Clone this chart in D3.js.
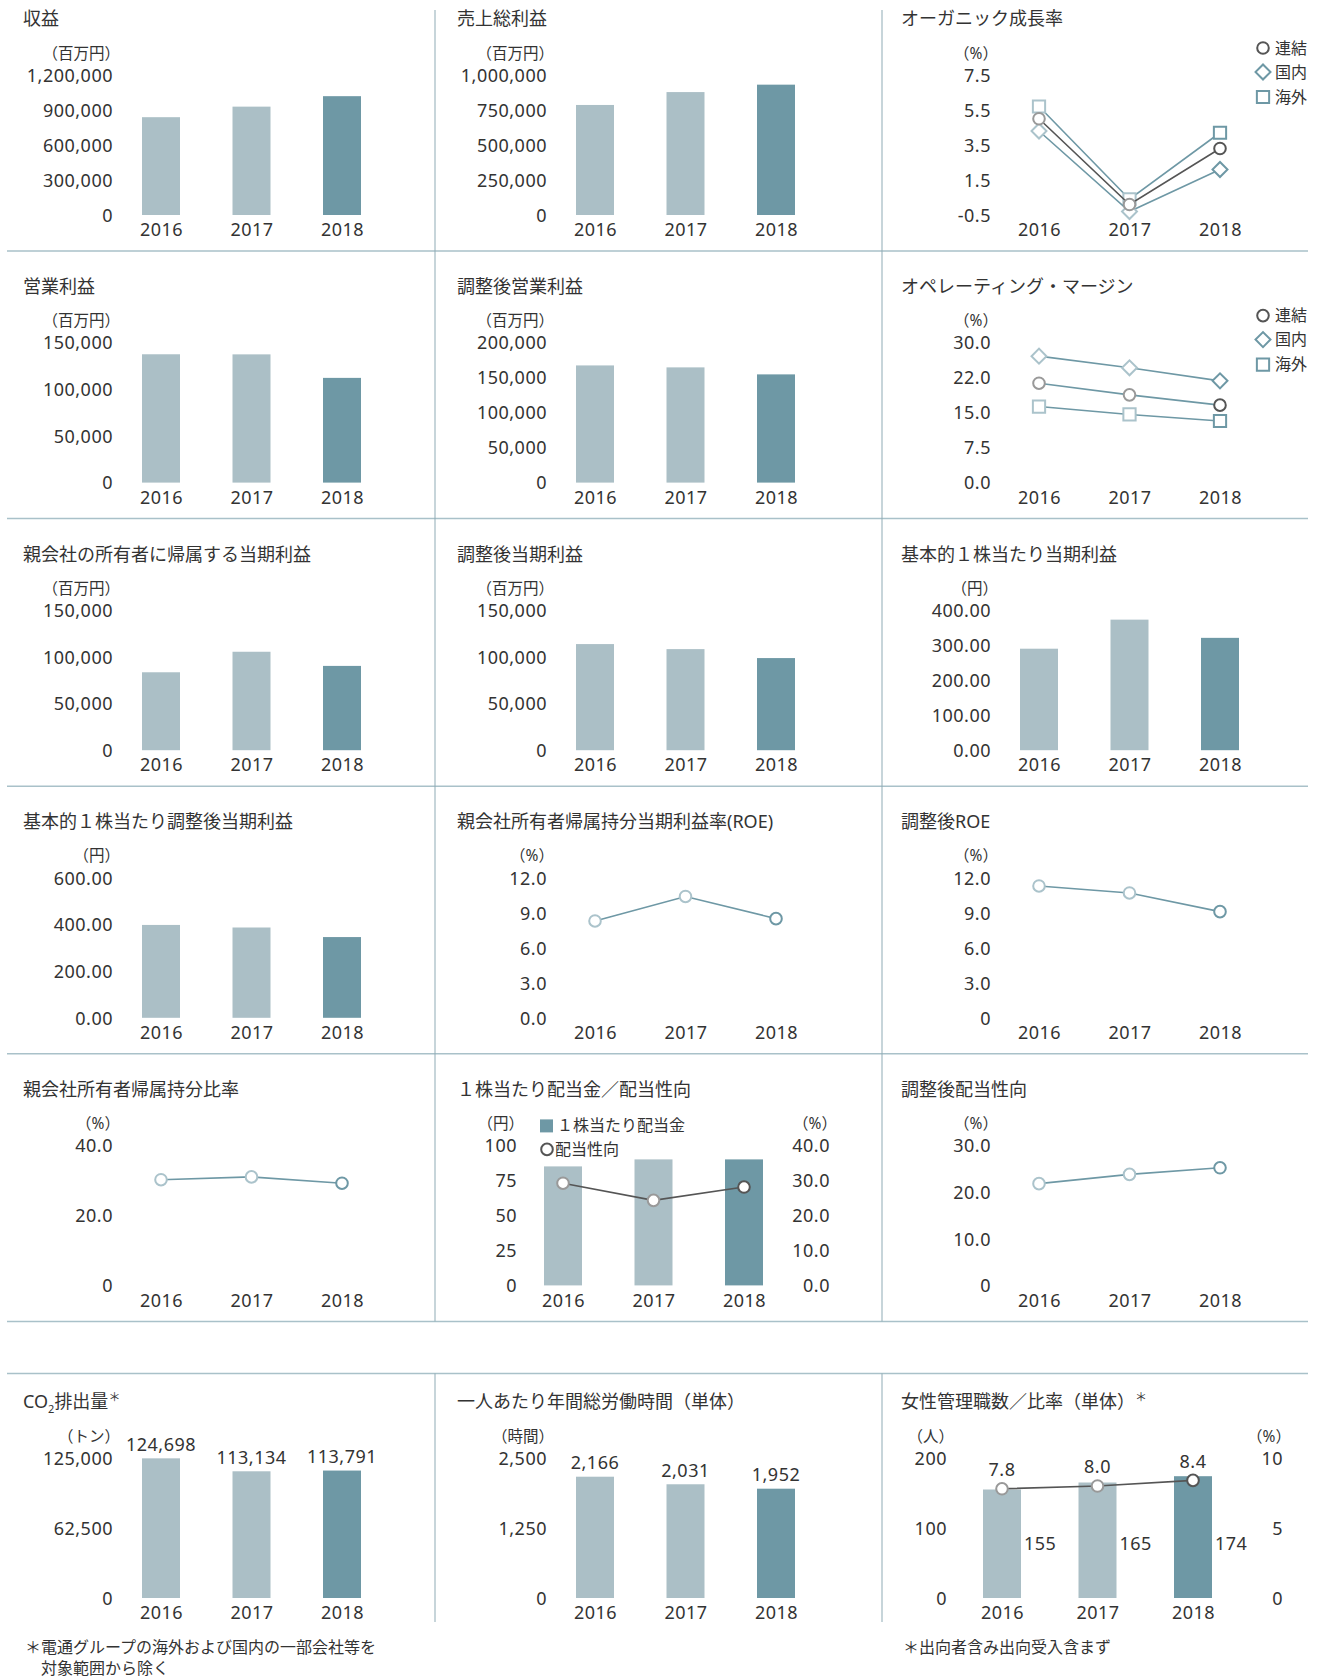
<!DOCTYPE html>
<html>
<head>
<meta charset="utf-8">
<script src="https://cdn.jsdelivr.net/npm/d3@7"></script>
<style>
body { margin: 0; background: #fff; }
svg text { font-family: "Noto Sans", "Noto Sans CJK JP", sans-serif; fill: #333; }
.title { font-size: 18px; }
.unit { font-size: 15.5px; }
.num { font-size: 18px; letter-spacing: 0.5px; }
.legend { font-size: 16px; }
.note { font-size: 16px; }
</style>
</head>
<body>
<svg id="chart" width="1320" height="1678"></svg>
<script>
// ---- data ----
var years = ["2016", "2017", "2018"];

var revenue = [838359, 928841, 1018512];
var grossProfit = [786000, 878000, 931000];
var organicTotal = [5.0, 0.1, 3.3];
var organicJapan = [4.3, -0.3, 2.1];
var organicIntl = [5.7, 0.4, 4.2];

var operatingProfit = [137500, 137400, 112200];
var underlyingOpProfit = [167400, 164600, 154600];
var marginTotal = [21.3, 18.8, 16.6];
var marginJapan = [27.1, 24.6, 21.8];
var marginIntl = [16.3, 14.6, 13.2];

var netIncome = [83501, 105478, 90316];
var underlyingNetIncome = [113700, 108300, 98700];
var eps = [290.0, 373.0, 321.0];

var underlyingEps = [398.0, 387.0, 346.0];
var roe = [8.3, 10.4, 8.5];
var underlyingRoe = [11.3, 10.7, 9.1];

var equityRatio = [30.2, 31.0, 29.2];
var dividend = [85, 90, 90];
var payoutRatio = [29.2, 24.3, 28.1];
var underlyingPayout = [21.8, 23.8, 25.2];

var co2 = [124698, 113134, 113791];
var workHours = [2166, 2031, 1952];
var womenManagers = [155, 165, 174];
var womenRatio = [7.8, 8.0, 8.4];

// tick labels
var revenueTicks = [0, 300000, 600000, 900000, 1200000];
var revenueLabels = ["0", "300,000", "600,000", "900,000", "1,200,000"];
var grossTicks = [0, 250000, 500000, 750000, 1000000];
var grossLabels = ["0", "250,000", "500,000", "750,000", "1,000,000"];
var organicTicks = [-0.5, 1.5, 3.5, 5.5, 7.5];
var organicLabels = ["-0.5", "1.5", "3.5", "5.5", "7.5"];
var ticks150k = [0, 50000, 100000, 150000];
var labels150k = ["0", "50,000", "100,000", "150,000"];
var ticks200k = [0, 50000, 100000, 150000, 200000];
var labels200k = ["0", "50,000", "100,000", "150,000", "200,000"];
var marginTicks = [0, 7.5, 15, 22.5, 30];
var marginLabels = ["0.0", "7.5", "15.0", "22.0", "30.0"];
var epsTicks = [0, 100, 200, 300, 400];
var epsLabels = ["0.00", "100.00", "200.00", "300.00", "400.00"];
var uEpsTicks = [0, 200, 400, 600];
var uEpsLabels = ["0.00", "200.00", "400.00", "600.00"];
var roeTicks = [0, 3, 6, 9, 12];
var roeLabels = ["0.0", "3.0", "6.0", "9.0", "12.0"];
var uRoeLabels = ["0", "3.0", "6.0", "9.0", "12.0"];
var equityTicks = [0, 20, 40];
var equityLabels = ["0", "20.0", "40.0"];
var divTicks = [0, 25, 50, 75, 100];
var divLabels = ["0", "25", "50", "75", "100"];
var payoutTicks = [0, 10, 20, 30, 40];
var payoutLabels = ["0.0", "10.0", "20.0", "30.0", "40.0"];
var uPayoutTicks = [0, 10, 20, 30];
var uPayoutLabels = ["0", "10.0", "20.0", "30.0"];
var co2Ticks = [0, 62500, 125000];
var co2Labels = ["0", "62,500", "125,000"];
var hoursTicks = [0, 1250, 2500];
var hoursLabels = ["0", "1,250", "2,500"];
var womenTicks = [0, 100, 200];
var womenLabels = ["0", "100", "200"];
var ratioTicks = [0, 5, 10];
var ratioLabels = ["0", "5", "10"];

// ---- colours ----
var lightBar = "#abbfc6";
var darkBar = "#6e98a5";
var teal = "#6e98a5";
var lightMark = "#abc3cb";
var gray = "#555";
var grayMark = "#999";
var tealMarks = [lightMark, lightMark, teal];
var grayMarks = [grayMark, grayMark, gray];

var colX = [0, 434, 878];
var rowTop = [0, 267.6, 535.2, 802.8, 1070.4];
var bottomTop = 1383;

var svg = d3.select("#chart");

// separator lines
var hLines = [251, 518.6, 786.2, 1053.8, 1321.4, 1373.5];
svg.selectAll("line.h").data(hLines).enter().append("line")
	.attr("x1", 7).attr("x2", 1308)
	.attr("y1", function(d) { return d; }).attr("y2", function(d) { return d; })
	.attr("stroke", "#a9c1c9").attr("stroke-width", 1.5);
[435, 882].forEach(function(xv) {
	svg.append("line").attr("x1", xv).attr("x2", xv).attr("y1", 10).attr("y2", 1321.4)
		.attr("stroke", "#8fabb5").attr("stroke-width", 1);
	svg.append("line").attr("x1", xv).attr("x2", xv).attr("y1", 1373.5).attr("y2", 1622)
		.attr("stroke", "#8fabb5").attr("stroke-width", 1);
});

// ---- helpers ----
function panel(col, top) {
	return svg.append("g").attr("transform", "translate(" + colX[col] + "," + top + ")");
}

function title(g, txt) {
	return g.append("text").attr("class", "title").attr("x", 23).attr("y", 19).attr("dy", "0.36em").text(txt);
}

function unit(g, txt, xr) {
	g.append("text").attr("class", "unit").attr("x", xr).attr("y", 53).attr("dy", "0.36em")
		.attr("text-anchor", "end").text(txt);
}

function yAxis(g, y, ticks, labels, xr) {
	var ax = d3.axisLeft(y).tickValues(ticks)
		.tickFormat(function(d, i) { return labels[i]; })
		.tickSize(0).tickPadding(0);
	var a = g.append("g").attr("transform", "translate(" + xr + ",0)").call(ax);
	a.select(".domain").remove();
	a.selectAll("text").attr("class", "num").attr("x", 0).attr("dy", "0.35em");
}

function yearAxis(g, x, ybase) {
	var a = g.append("g").attr("transform", "translate(0," + ybase + ")")
		.call(d3.axisBottom(x).tickSize(0));
	a.select(".domain").remove();
	a.selectAll("text").attr("class", "num").attr("y", 15).attr("dy", "0.35em");
}

function bars(g, x, y, vals) {
	g.selectAll("rect.bar").data(vals).enter().append("rect")
		.attr("class", "bar")
		.attr("x", function(d, i) { return x(years[i]) - 19; })
		.attr("width", 38)
		.attr("y", function(d) { return y(d); })
		.attr("height", function(d) { return y(0) - y(d); })
		.attr("fill", function(d, i) { return i < 2 ? lightBar : darkBar; });
}

function marker(g, shape, cx, cy, stroke) {
	if (shape === "circle") {
		g.append("circle").attr("cx", cx).attr("cy", cy).attr("r", 5.8)
			.attr("fill", "#fff").attr("stroke", stroke).attr("stroke-width", 2);
	} else {
		var size = shape === "square" ? 150 : 112;
		var rot = shape === "diamond" ? 45 : 0;
		g.append("path").attr("d", d3.symbol(d3.symbolSquare, size)())
			.attr("transform", "translate(" + cx + "," + cy + ") rotate(" + rot + ")")
			.attr("fill", "#fff").attr("stroke", stroke).attr("stroke-width", 2);
	}
}

function series(g, x, y, vals, lineColor, marks, shape) {
	var line = d3.line()
		.x(function(d, i) { return x(years[i]); })
		.y(function(d) { return y(d); });
	g.append("path").datum(vals).attr("d", line)
		.attr("fill", "none").attr("stroke", lineColor).attr("stroke-width", 1.6);
	vals.forEach(function(v, i) { marker(g, shape, x(years[i]), y(v), marks[i]); });
}

function threeLegend(g) {
	var items = [["circle", gray, "連結"], ["diamond", teal, "国内"], ["square", teal, "海外"]];
	var ly = [48, 72, 97];
	items.forEach(function(it, i) {
		marker(g, it[0], 385, ly[i], it[1]);
		g.append("text").attr("class", "legend").attr("x", 397).attr("y", ly[i]).attr("dy", "0.36em").text(it[2]);
	});
}

var stdX = d3.scalePoint().domain(years).range([161, 342]);

function barPanel(col, row, ttl, unitTxt, vals, domainMax, ticks, labels) {
	var g = panel(col, rowTop[row]);
	title(g, ttl);
	unit(g, unitTxt, 120);
	var y = d3.scaleLinear().domain([0, domainMax]).range([215, 75]);
	yAxis(g, y, ticks, labels, 113);
	bars(g, stdX, y, vals);
	yearAxis(g, stdX, 215);
	return g;
}

function linePanel(col, row, ttl, domain, ticks, labels, vals) {
	var g = panel(col, rowTop[row]);
	title(g, ttl);
	unit(g, "（%）", 120);
	var y = d3.scaleLinear().domain(domain).range([215, 75]);
	yAxis(g, y, ticks, labels, 113);
	yearAxis(g, stdX, 215);
	if (vals) series(g, stdX, y, vals, teal, tealMarks, "circle");
	return { g: g, y: y };
}

// ---- row 1 ----
barPanel(0, 0, "収益", "（百万円）", revenue, 1200000, revenueTicks, revenueLabels);
barPanel(1, 0, "売上総利益", "（百万円）", grossProfit, 1000000, grossTicks, grossLabels);
var og = linePanel(2, 0, "オーガニック成長率", [-0.5, 7.5], organicTicks, organicLabels, null);
series(og.g, stdX, og.y, organicIntl, teal, tealMarks, "square");
series(og.g, stdX, og.y, organicJapan, teal, tealMarks, "diamond");
series(og.g, stdX, og.y, organicTotal, gray, grayMarks, "circle");
threeLegend(og.g);

// ---- row 2 ----
barPanel(0, 1, "営業利益", "（百万円）", operatingProfit, 150000, ticks150k, labels150k);
barPanel(1, 1, "調整後営業利益", "（百万円）", underlyingOpProfit, 200000, ticks200k, labels200k);
var om = linePanel(2, 1, "オペレーティング・マージン", [0, 30], marginTicks, marginLabels, null);
series(om.g, stdX, om.y, marginJapan, teal, tealMarks, "diamond");
series(om.g, stdX, om.y, marginIntl, teal, tealMarks, "square");
series(om.g, stdX, om.y, marginTotal, teal, grayMarks, "circle");
threeLegend(om.g);

// ---- row 3 ----
barPanel(0, 2, "親会社の所有者に帰属する当期利益", "（百万円）", netIncome, 150000, ticks150k, labels150k);
barPanel(1, 2, "調整後当期利益", "（百万円）", underlyingNetIncome, 150000, ticks150k, labels150k);
barPanel(2, 2, "基本的１株当たり当期利益", "（円）", eps, 400, epsTicks, epsLabels);

// ---- row 4 ----
barPanel(0, 3, "基本的１株当たり調整後当期利益", "（円）", underlyingEps, 600, uEpsTicks, uEpsLabels);
linePanel(1, 3, "親会社所有者帰属持分当期利益率(ROE)", [0, 12], roeTicks, roeLabels, roe);
linePanel(2, 3, "調整後ROE", [0, 12], roeTicks, uRoeLabels, underlyingRoe);

// ---- row 5 ----
linePanel(0, 4, "親会社所有者帰属持分比率", [0, 40], equityTicks, equityLabels, equityRatio);

// dividend combo: bars on the left axis, payout ratio on the right axis
(function() {
	var g = panel(1, rowTop[4]);
	title(g, "１株当たり配当金／配当性向");
	var x = d3.scalePoint().domain(years).range([129, 310]);
	var yL = d3.scaleLinear().domain([0, 100]).range([215, 75]);
	var yR = d3.scaleLinear().domain([0, 40]).range([215, 75]);
	unit(g, "（円）", 90);
	unit(g, "（%）", 403);
	yAxis(g, yL, divTicks, divLabels, 83);
	yAxis(g, yR, payoutTicks, payoutLabels, 396);
	bars(g, x, yL, dividend);
	series(g, x, yR, payoutRatio, gray, grayMarks, "circle");
	yearAxis(g, x, 215);
	g.append("rect").attr("x", 106).attr("y", 49).attr("width", 13).attr("height", 13).attr("fill", darkBar);
	g.append("text").attr("class", "legend").attr("x", 123).attr("y", 55).attr("dy", "0.36em").text("１株当たり配当金");
	marker(g, "circle", 113, 79, gray);
	g.append("text").attr("class", "legend").attr("x", 121).attr("y", 79).attr("dy", "0.36em").text("配当性向");
})();

linePanel(2, 4, "調整後配当性向", [0, 30], uPayoutTicks, uPayoutLabels, underlyingPayout);

// ---- bottom row ----
function valueLabels(g, x, y, vals, fmt, off) {
	g.selectAll("text.val").data(vals).enter().append("text")
		.attr("class", "num val")
		.attr("x", function(d, i) { return x(years[i]); })
		.attr("y", function(d) { return y(d) - off; })
		.attr("dy", "0.35em").attr("text-anchor", "middle")
		.text(function(d) { return fmt(d); });
}

(function() {
	var g = panel(0, bottomTop);
	var t = title(g, "CO");
	t.append("tspan").attr("font-size", "11px").attr("dy", "5").text("2");
	t.append("tspan").attr("dy", "-5").text("排出量");
	t.append("tspan").attr("font-size", "12px").attr("dy", "-6").text("＊");
	unit(g, "（トン）", 120);
	var y = d3.scaleLinear().domain([0, 125000]).range([215, 75]);
	yAxis(g, y, co2Ticks, co2Labels, 113);
	bars(g, stdX, y, co2);
	yearAxis(g, stdX, 215);
	valueLabels(g, stdX, y, co2, d3.format(","), 14);
	g.append("text").attr("class", "note").attr("x", 25).attr("y", 264).attr("dy", "0.36em").text("＊電通グループの海外および国内の一部会社等を");
	g.append("text").attr("class", "note").attr("x", 41).attr("y", 285).attr("dy", "0.36em").text("対象範囲から除く");
})();

(function() {
	var g = panel(1, bottomTop);
	title(g, "一人あたり年間総労働時間（単体）");
	unit(g, "（時間）", 120);
	var y = d3.scaleLinear().domain([0, 2500]).range([215, 75]);
	yAxis(g, y, hoursTicks, hoursLabels, 113);
	bars(g, stdX, y, workHours);
	yearAxis(g, stdX, 215);
	valueLabels(g, stdX, y, workHours, d3.format(","), 14);
})();

(function() {
	var g = panel(2, bottomTop);
	var t = title(g, "女性管理職数／比率（単体）");
	t.append("tspan").attr("font-size", "12px").attr("dy", "-6").text("＊");
	var x = d3.scalePoint().domain(years).range([124, 315]);
	var yL = d3.scaleLinear().domain([0, 200]).range([215, 75]);
	var yR = d3.scaleLinear().domain([0, 10]).range([215, 75]);
	unit(g, "（人）", 76);
	unit(g, "（%）", 413);
	yAxis(g, yL, womenTicks, womenLabels, 69);
	yAxis(g, yR, ratioTicks, ratioLabels, 405);
	bars(g, x, yL, womenManagers);
	series(g, x, yR, womenRatio, gray, grayMarks, "circle");
	yearAxis(g, x, 215);
	valueLabels(g, x, yR, womenRatio, d3.format(".1f"), 19);
	g.selectAll("text.cnt").data(womenManagers).enter().append("text")
		.attr("class", "num cnt")
		.attr("x", function(d, i) { return x(years[i]) + 22; })
		.attr("y", 161).attr("dy", "0.35em")
		.text(function(d) { return d; });
	g.append("text").attr("class", "note").attr("x", 25).attr("y", 264).attr("dy", "0.36em").text("＊出向者含み出向受入含まず");
})();
</script>
</body>
</html>
